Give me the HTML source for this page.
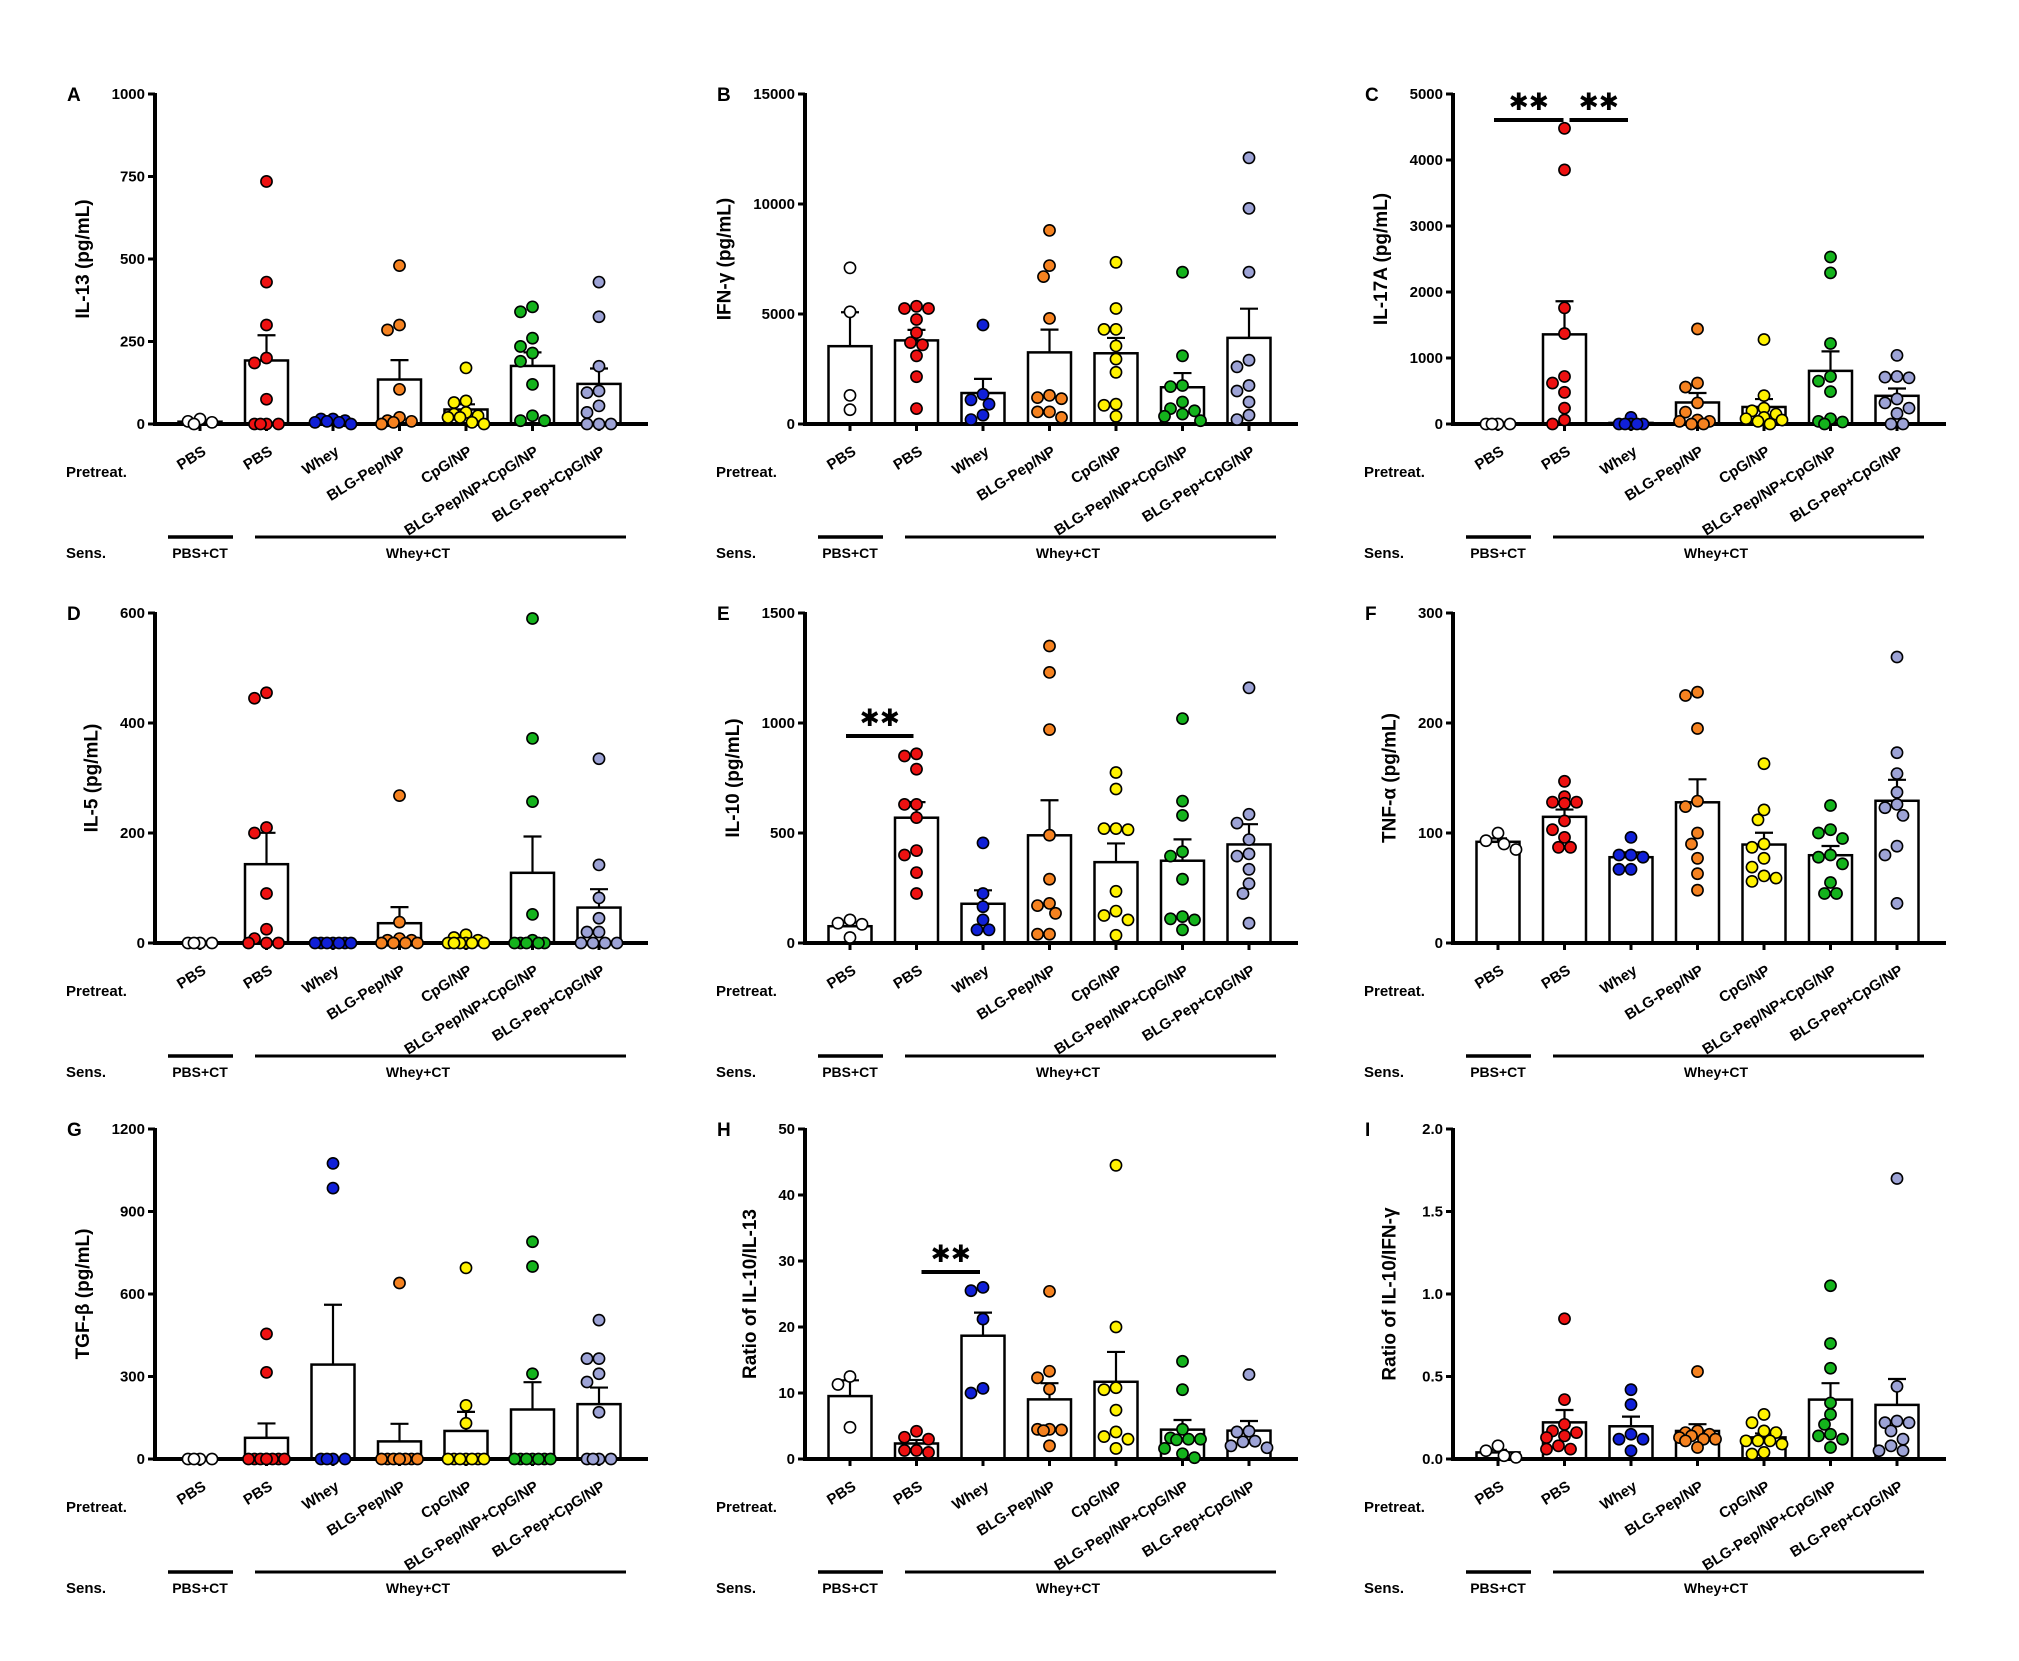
<!DOCTYPE html>
<html><head><meta charset="utf-8"><title>Cytokine panels</title>
<style>
html,body{margin:0;padding:0;background:#fff;}
svg{display:block;}
text{font-family:"Liberation Sans",sans-serif;font-weight:bold;fill:#000;}
</style></head>
<body>
<svg id="fig" width="2019" height="1661" viewBox="0 0 2019 1661" xmlns="http://www.w3.org/2000/svg"></svg>
<script>
// ---- shared categories ----
const categories = ["PBS","PBS","Whey","BLG-Pep/NP","CpG/NP","BLG-Pep/NP+CpG/NP","BLG-Pep+CpG/NP"];
const groupColors = ["#ffffff","#ee1111","#1020d8","#f58220","#fff200","#14b31c","#9da3d6"];

// ---- Panel A: IL-13 ----
const A_white = [0,15,5,8];
const A_red = [735,430,300,200,185,75,0,0,0,0];
const A_blue = [5,15,10,15,0,5,8];
const A_orange = [480,300,285,105,20,10,5,0,8];
const A_yellow = [170,70,65,35,30,20,25,5,0,20];
const A_green = [355,340,260,235,215,190,120,25,10,10];
const A_lav = [430,325,175,100,95,55,35,0,0,0];
const A_ticks = [0,250,500,750,1000];

// ---- Panel B: IFN-g ----
const B_white = [7100,5100,1300,650];
const B_red = [5350,5250,5250,4750,4150,3600,3700,3100,2150,700];
const B_blue = [4500,1350,1100,900,400,200];
const B_orange = [8800,7200,6700,4800,1300,1150,1200,550,550,300];
const B_yellow = [7350,5250,4300,4300,3550,2950,2350,900,850,350];
const B_green = [6900,3100,1700,1750,1000,700,600,350,450,150];
const B_lav = [12100,9800,6900,2900,2600,1750,1500,1000,400,200];
const B_ticks = [0,5000,10000,15000];

// ---- Panel C: IL-17A ----
const C_white = [0,0,0,0];
const C_red = [4480,3850,1760,1370,620,720,480,240,0,60];
const C_blue = [100,0,0,0,0,0];
const C_orange = [1440,620,560,320,180,60,40,40,0,0];
const C_yellow = [1280,430,240,200,150,100,80,60,40,0];
const C_green = [2530,2290,1220,720,650,490,80,30,40,0];
const C_lav = [1040,710,720,700,380,320,240,160,0,0];
const C_ticks = [0,1000,2000,3000,4000,5000];

// ---- Panel D: IL-5 ----
const D_white = [0,0,0,0];
const D_red = [455,445,210,200,90,25,8,0,0,0];
const D_blue = [0,0,0,0,0,0,0];
const D_orange = [268,38,8,5,5,0,0,0,0];
const D_yellow = [15,10,5,0,0,0,0,0,0];
const D_green = [590,372,257,52,5,0,0,0,0,0];
const D_lav = [335,142,82,45,20,20,0,0,0,0];
const D_ticks = [0,200,400,600];

// ---- Panel E: IL-10 ----
const E_white = [105,85,90,25];
const E_red = [860,850,790,630,630,570,420,400,320,225];
const E_blue = [455,225,165,105,60,60];
const E_orange = [1350,1230,970,490,290,180,170,135,40,40];
const E_yellow = [775,700,520,520,515,235,145,125,105,35];
const E_green = [1020,645,580,415,395,290,120,110,105,60];
const E_lav = [1160,585,545,470,395,405,335,270,225,90];
const E_ticks = [0,500,1000,1500];

// ---- Panel F: TNF-a ----
const F_white = [85,93,100,90];
const F_red = [147,133,128,128,127,111,103,96,87,87];
const F_blue = [96,80,80,78,67,67];
const F_orange = [228,225,195,129,124,100,90,77,63,48];
const F_yellow = [163,121,112,90,87,77,69,61,59,56];
const F_green = [125,103,100,95,80,78,72,55,45,45];
const F_lav = [260,173,154,137,126,123,116,88,80,36];
const F_ticks = [0,100,200,300];

// ---- Panel G: TGF-b ----
const G_white = [0,0,0,0];
const G_red = [455,315,0,0,0,0,0,0,0,0];
const G_blue = [1075,985,0,0,0,0];
const G_orange = [640,0,0,0,0,0,0,0,0,0];
const G_yellow = [695,195,130,0,0,0,0,0,0,0];
const G_green = [790,700,310,0,0,0,0,0,0,0];
const G_lav = [505,365,365,310,280,170,0,0,0,0];
const G_ticks = [0,300,600,900,1200];

// ---- Panel H: IL-10/IL-13 ----
const H_white = [12.5,11.3,4.8];
const H_red = [4.2,3.3,3.0,1.3,1.3,1.0];
const H_blue = [26,25.5,21.2,10.7,10];
const H_orange = [25.4,13.3,12.3,10.6,4.5,4.4,4.5,4.3,2.0];
const H_yellow = [44.5,20,10.8,10.5,7.4,4.1,3.4,3.0,1.6];
const H_green = [14.8,10.5,4.5,3.2,2.9,3.0,3.0,1.6,0.8,0.2];
const H_lav = [12.8,4.2,4.1,2.7,2.6,2.0,1.7];
const H_ticks = [0,10,20,30,40,50];

// ---- Panel I: IL-10/IFN-g ----
const I_white = [0.01,0.05,0.08,0.02];
const I_red = [0.85,0.36,0.21,0.17,0.16,0.13,0.14,0.08,0.06,0.06];
const I_blue = [0.42,0.33,0.15,0.12,0.12,0.05];
const I_orange = [0.53,0.17,0.16,0.15,0.14,0.12,0.13,0.11,0.12,0.07];
const I_yellow = [0.27,0.22,0.17,0.16,0.11,0.11,0.11,0.09,0.04,0.03];
const I_green = [1.05,0.70,0.55,0.34,0.27,0.21,0.14,0.15,0.12,0.07];
const I_lav = [1.70,0.44,0.23,0.22,0.22,0.17,0.12,0.08,0.05,0.05];
const I_ticks = ["0.0","0.5","1.0","1.5","2.0"];

// significance pairs: [fromGroup, toGroup]
const C_sig = [[0,1],[1,2]];
const E_sig = [[0,1]];
const H_sig = [[1,2]];

const NS = "http://www.w3.org/2000/svg";
const svg = document.getElementById("fig");
function mk(tag, attrs, parent){
  const e = document.createElementNS(NS, tag);
  for (const k in attrs) e.setAttribute(k, attrs[k]);
  (parent||svg).appendChild(e);
  return e;
}

const panels = [
  {key:"a", letter:"A", title:"IL-13 (pg/mL)", groups:[A_white,A_red,A_blue,A_orange,A_yellow,A_green,A_lav], ticks:A_ticks, sig:[], col:0,row:0},
  {key:"b", letter:"B", title:"IFN-\u03b3 (pg/mL)", groups:[B_white,B_red,B_blue,B_orange,B_yellow,B_green,B_lav], ticks:B_ticks, sig:[], col:1,row:0},
  {key:"c", letter:"C", title:"IL-17A (pg/mL)", groups:[C_white,C_red,C_blue,C_orange,C_yellow,C_green,C_lav], ticks:C_ticks, sig:C_sig, col:2,row:0},
  {key:"d", letter:"D", title:"IL-5 (pg/mL)", groups:[D_white,D_red,D_blue,D_orange,D_yellow,D_green,D_lav], ticks:D_ticks, sig:[], col:0,row:1},
  {key:"e", letter:"E", title:"IL-10 (pg/mL)", groups:[E_white,E_red,E_blue,E_orange,E_yellow,E_green,E_lav], ticks:E_ticks, sig:E_sig, col:1,row:1},
  {key:"f", letter:"F", title:"TNF-\u03b1 (pg/mL)", groups:[F_white,F_red,F_blue,F_orange,F_yellow,F_green,F_lav], ticks:F_ticks, sig:[], col:2,row:1},
  {key:"g", letter:"G", title:"TGF-\u03b2 (pg/mL)", groups:[G_white,G_red,G_blue,G_orange,G_yellow,G_green,G_lav], ticks:G_ticks, sig:[], col:0,row:2},
  {key:"h", letter:"H", title:"Ratio of IL-10/IL-13", groups:[H_white,H_red,H_blue,H_orange,H_yellow,H_green,H_lav], ticks:H_ticks, sig:H_sig, col:1,row:2},
  {key:"i", letter:"I", title:"Ratio of IL-10/IFN-\u03b3", groups:[I_white,I_red,I_blue,I_orange,I_yellow,I_green,I_lav], ticks:I_ticks, sig:[], col:2,row:2}
];

const colX = [155, 805, 1453];
const rowTop = [94, 613, 1129];
const PH = 330, AXLEN = 493, GX0 = 45, GSTEP = 66.5, BW = 43, R = 5.6;
const OFFS = [0,-6,6,-12,12,-18,18];

function mean(a){ return a.reduce((s,v)=>s+v,0)/a.length; }
function sem(a){ const m=mean(a); if(a.length<2) return 0; const v=a.reduce((s,x)=>s+(x-m)*(x-m),0)/(a.length-1); return Math.sqrt(v)/Math.sqrt(a.length); }

panels.forEach(p=>{
  const ax = colX[p.col], top = rowTop[p.row], zero = top + PH;
  const tickVals = p.ticks.map(Number);
  const ymax = tickVals[tickVals.length-1];
  const y = v => zero - (v / ymax) * PH;
  const gx = i => ax + GX0 + GSTEP * i;
  const g = mk("g", {});
  
  

  const letter = mk("text", {x: ax-88, y: top+7, "font-size": 19}, g);
  letter.textContent = p.letter;
  
  

  const maxChars = Math.max(...p.ticks.map(t=>String(t).length));
  const tx = ax - (maxChars*8.5 + 32);
  const title = mk("text", {x: tx, y: top + PH/2, "font-size": 19, "text-anchor":"middle", transform:`rotate(-90 ${tx} ${top+PH/2})`}, g);
  title.textContent = p.title;
  
  

  p.ticks.forEach(t=>{
    const yy = y(Number(t));
    const tk = mk("line", {x1: ax-7, x2: ax, y1: yy, y2: yy, stroke:"#000", "stroke-width":3}, g);
    
    
    const tl = mk("text", {x: ax-10, y: yy+5, "font-size": 15, "text-anchor":"end"}, g);
    tl.textContent = String(t);
    
    
  });

  p.groups.forEach((vals,i)=>{
    const m = mean(vals), s = sem(vals), cx = gx(i);
    const bar = mk("rect", {x: cx-BW/2, y: y(m), width: BW, height: Math.max(0, zero-y(m)), fill:"#fff", stroke:"#000", "stroke-width":2.5}, g);
    
    
    const el = mk("line", {x1:cx, x2:cx, y1:y(m), y2:y(m+s), stroke:"#000", "stroke-width":2.2}, g);
    
    
    const cap = mk("line", {x1:cx-9, x2:cx+9, y1:y(m+s), y2:y(m+s), stroke:"#000", "stroke-width":2.2}, g);
    
    
  });

  const yaxis = mk("line", {x1:ax, x2:ax, y1:top-1, y2:zero+2, stroke:"#000", "stroke-width":4}, g);
  
  
  const xaxis = mk("line", {x1:ax-2, x2:ax+AXLEN, y1:zero, y2:zero, stroke:"#000", "stroke-width":4}, g);
  
  

  categories.forEach((c,i)=>{
    const cx = gx(i);
    const xt = mk("line", {x1:cx, x2:cx, y1:zero, y2:zero+7, stroke:"#000", "stroke-width":3}, g);
    
    
    const lx = cx + 7, ly = zero + 30;
    const lab = mk("text", {x: lx, y: ly, "font-size": 15, "text-anchor":"end", transform:`rotate(-32 ${lx} ${ly})`}, g);
    lab.textContent = c;
    
    
  });

  // points (compact beeswarm, offsets limited to bar width)
  p.groups.forEach((vals,i)=>{
    const cx = gx(i);
    const placed = [];
    const sorted = vals.slice().sort((a,b)=>b-a);
    sorted.forEach(v=>{
      const py = y(v);
      let best = cx, bestD = -1;
      for (let k=0;k<OFFS.length;k++){
        const cand = cx + OFFS[k];
        const dmin = placed.length ? Math.min(...placed.map(q=>Math.hypot(q[0]-cand,q[1]-py))) : 1e9;
        if (dmin >= 2*R){ best = cand; bestD = 1e9; break; }
        if (dmin > bestD){ bestD = dmin; best = cand; }
      }
      placed.push([best,py]);
      const dot = mk("circle", {cx:best, cy:py, r:R, fill:groupColors[i], stroke:"#000", "stroke-width":1.6}, g);
      
      
    });
  });

  p.sig.forEach(pr=>{
    const x1 = gx(pr[0]) + (pr[0]===0? -4 : 5), x2 = gx(pr[1]) + (pr[0]===0 && p.key==='c' ? -1 : -3);
    const by = p.key==='c' ? top+26 : (p.key==='e' ? top+123 : top+143);
    const sl = mk("line", {x1:x1, x2:x2, y1:by, y2:by, stroke:"#000", "stroke-width":4}, g);
    
    
    const st = mk("text", {x:(x1+x2)/2, y:by-10, "font-size": 24, "text-anchor":"middle", style:"font-family:'DejaVu Sans',sans-serif"}, g);
    st.textContent = "\u2731\u2731";
    
    
  });

  const pt = mk("text", {x: ax-89, y: zero+53, "font-size": 15}, g);
  pt.textContent = "Pretreat.";
  
  
  const sn = mk("text", {x: ax-89, y: zero+134, "font-size": 15}, g);
  sn.textContent = "Sens.";
  
  
  const l1 = mk("line", {x1: ax+13, x2: ax+78, y1: zero+113, y2: zero+113, stroke:"#000", "stroke-width":3.5}, g);
  
  
  const l2 = mk("line", {x1: ax+100, x2: ax+471, y1: zero+113, y2: zero+113, stroke:"#000", "stroke-width":3}, g);
  
  
  const t1 = mk("text", {x: ax+45, y: zero+134, "font-size": 14, "text-anchor":"middle"}, g);
  t1.textContent = "PBS+CT";
  
  
  const t2 = mk("text", {x: ax+263, y: zero+134, "font-size": 14, "text-anchor":"middle"}, g);
  t2.textContent = "Whey+CT";
  
  
});
</script>
</body></html>
